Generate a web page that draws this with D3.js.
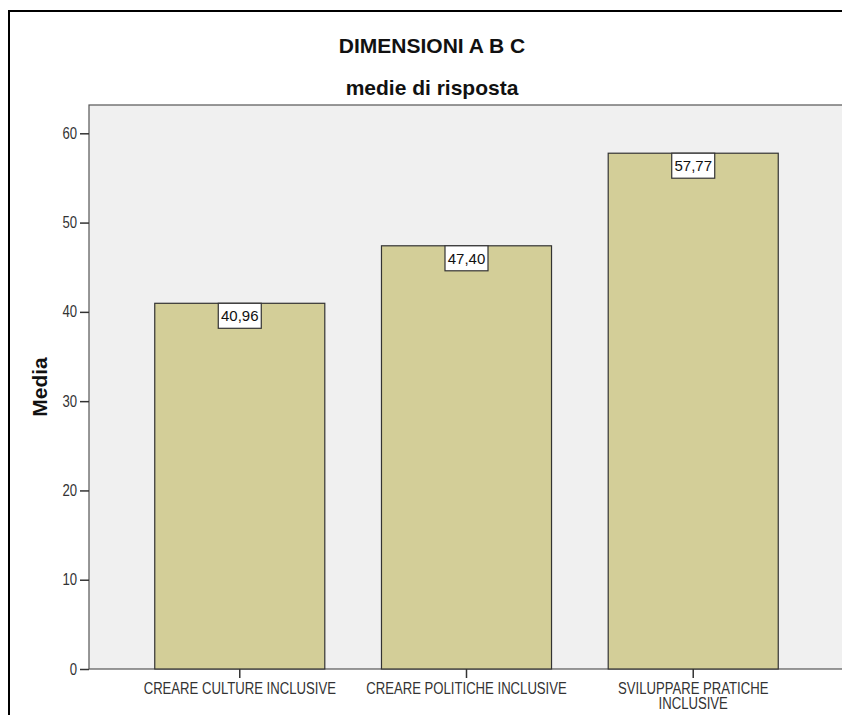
<!DOCTYPE html>
<html>
<head>
<meta charset="utf-8">
<script src="https://cdn.jsdelivr.net/npm/d3@7"></script>
<style>
  html, body { margin: 0; padding: 0; overflow: hidden; background: #fff; }
  svg { display: block; }
</style>
</head>
<body>
<svg></svg>
<script>
// dati
const categories = ["CREARE CULTURE INCLUSIVE", "CREARE POLITICHE INCLUSIVE", "SVILUPPARE PRATICHE INCLUSIVE"];
const values = [40.96, 47.40, 57.77];
const yTicks = [0, 10, 20, 30, 40, 50, 60];
const title = "DIMENSIONI A B C";
const subtitle = "medie di risposta";
const yLabel = "Media";

var width = 842, height = 715;
var plotLeft = 89, plotTop = 105, plotRight = 844, plotBottom = 669;
var sans = "'Liberation Sans', Arial, sans-serif";
var squeeze = 0.82; // testo stretto come nel grafico SPSS

var svg = d3.select('svg').attr('width', width).attr('height', height);

// cornice esterna (solo lati visibili)
svg.append('path')
  .attr('d', 'M9,' + height + 'V11H' + width)
  .attr('fill', 'none')
  .attr('stroke', '#000').attr('stroke-width', 2);

var y = d3.scaleLinear().domain([0, 60]).range([plotBottom, 133.3]);
var x = d3.scaleBand().domain(categories)
  .range([plotLeft, plotRight])
  .paddingInner(0.25).paddingOuter(0.29);

// area del grafico
svg.append('rect')
  .attr('x', plotLeft).attr('y', plotTop)
  .attr('width', plotRight - plotLeft).attr('height', plotBottom - plotTop)
  .attr('fill', '#f0f0f0')
  .attr('stroke', '#555').attr('stroke-width', 1.2);

// titoli
svg.append('text')
  .attr('x', 432).attr('y', 53)
  .attr('text-anchor', 'middle')
  .style('font-family', sans).style('font-weight', 'bold').style('font-size', '21px')
  .attr('fill', '#111')
  .text(title);
svg.append('text')
  .attr('x', 432).attr('y', 95)
  .attr('text-anchor', 'middle')
  .style('font-family', sans).style('font-weight', 'bold').style('font-size', '21px')
  .attr('fill', '#111')
  .text(subtitle);

// barre
svg.selectAll('rect.bar')
  .data(values)
  .enter().append('rect')
  .attr('class', 'bar')
  .attr('x', function (d, i) { return x(categories[i]); })
  .attr('y', function (d) { return y(d); })
  .attr('width', x.bandwidth())
  .attr('height', function (d) { return plotBottom - y(d); })
  .attr('fill', '#d3ce98')
  .attr('stroke', '#333').attr('stroke-width', 1.2);

// etichette dei valori
var lab = svg.selectAll('g.lab')
  .data(values)
  .enter().append('g')
  .attr('class', 'lab')
  .attr('transform', function (d, i) {
    return 'translate(' + (x(categories[i]) + x.bandwidth() / 2) + ',' + y(d) + ')';
  });
lab.append('rect')
  .attr('x', -21.5).attr('y', 0)
  .attr('width', 43).attr('height', 25)
  .attr('fill', '#fff')
  .attr('stroke', '#333').attr('stroke-width', 1.2);
lab.append('text')
  .attr('text-anchor', 'middle')
  .attr('y', 18)
  .style('font-family', sans).style('font-size', '15px')
  .attr('fill', '#111')
  .text(function (d) { return d3.format('.2f')(d).replace('.', ','); });

// asse Y
var yAxis = svg.append('g')
  .attr('transform', 'translate(' + plotLeft + ',0)')
  .call(d3.axisLeft(y).tickValues(yTicks).tickSize(9).tickPadding(3));
yAxis.select('.domain').remove();
yAxis.selectAll('line').attr('stroke', '#333').attr('stroke-width', 1.5);
yAxis.selectAll('text')
  .style('font-family', sans).style('font-size', '16px')
  .attr('fill', '#333')
  .each(condense);

svg.append('text')
  .attr('transform', 'translate(47,387) rotate(-90)')
  .attr('text-anchor', 'middle')
  .style('font-family', sans).style('font-weight', 'bold').style('font-size', '21px')
  .attr('fill', '#111')
  .text(yLabel);

// asse X
var xAxis = svg.append('g')
  .attr('transform', 'translate(0,' + plotBottom + ')')
  .call(d3.axisBottom(x).tickSize(9).tickPadding(4));
xAxis.select('.domain').remove();
xAxis.selectAll('line').attr('stroke', '#333').attr('stroke-width', 1.5);
xAxis.selectAll('text')
  .style('font-family', sans).style('font-size', '16px')
  .attr('fill', '#333')
  .call(wrap, 205);

function condense() {
  var n = this;
  var w = n.getComputedTextLength();
  d3.select(n).attr('textLength', w * squeeze).attr('lengthAdjust', 'spacingAndGlyphs');
}

function wrap(sel, maxW) {
  sel.each(function () {
    var t = d3.select(this);
    var words = t.text().split(' ');
    var yy = +t.attr('y');
    var lines = [], cur = [];
    t.text(null);
    var probe = t.append('tspan');
    words.forEach(function (w) {
      var test = cur.concat([w]).join(' ');
      probe.text(test);
      if (cur.length && probe.node().getComputedTextLength() * squeeze > maxW) {
        lines.push(cur.join(' '));
        cur = [w];
      } else {
        cur.push(w);
      }
    });
    lines.push(cur.join(' '));
    probe.remove();
    t.attr('dy', null);
    lines.forEach(function (l, k) {
      var ts = t.append('tspan')
        .attr('x', 0)
        .attr('y', yy + 12 + k * 15)
        .text(l);
      var w = ts.node().getComputedTextLength();
      ts.attr('textLength', w * squeeze).attr('lengthAdjust', 'spacingAndGlyphs');
    });
  });
}
</script>
</body>
</html>
